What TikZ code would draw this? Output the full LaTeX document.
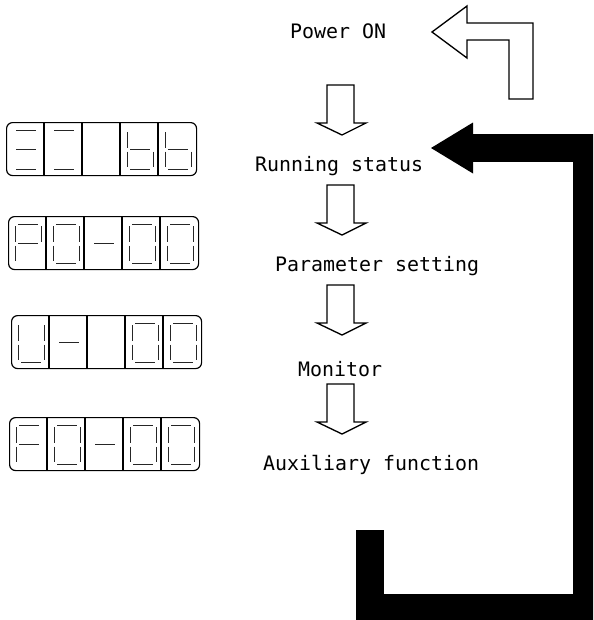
\documentclass[tikz,border=0pt]{standalone}
\usepackage{fontspec}
\newfontfamily\monofont{DejaVu Sans Mono}
\usetikzlibrary{arrows.meta}

\begin{document}
\begin{tikzpicture}[x=0.3mm,y=-0.3mm]
        \tikzstyle{every node}=[inner sep=0pt, font=\monofont\fontsize{17}{20}\selectfont, text=black]
        \tikzstyle{panel}=[draw=black, line width=0.35mm, rounded corners=1.8mm, minimum width=57mm, minimum height=15.9mm, anchor=north west]
        \tikzstyle{divider}=[black, line width=0.35mm]
        \tikzstyle{seg}=[black!85, line width=0.28mm]
        \tikzstyle{hollow}=[draw=black, line width=0.4mm, fill=white, line join=miter]
        \tikzstyle{loop}=[black, line width=8.4mm, line join=miter, -{Triangle[length=12.6mm, width=15.3mm, line width=0pt]}]
        \tikzstyle{sg a}=[insert path={(10,8) -- (30,8)}]
        \tikzstyle{sg b}=[insert path={(33,10) -- (33,25.5)}]
        \tikzstyle{sg c}=[insert path={(33,29.5) -- (33,45)}]
        \tikzstyle{sg d}=[insert path={(10,47) -- (30,47)}]
        \tikzstyle{sg e}=[insert path={(7,29.5) -- (7,45)}]
        \tikzstyle{sg f}=[insert path={(7,10) -- (7,25.5)}]
        \tikzstyle{sg g}=[insert path={(10,27.5) -- (30,27.5)}]

        \useasboundingbox (0,0) rectangle (593,620);
        \clip (0,0) rectangle (593,620);

        \node[anchor=base west] (power) at (290,38)  {Power ON};
        \node[anchor=base west] (run)   at (255,171) {Running status};
        \node[anchor=base west] (para)  at (275,271) {Parameter setting};
        \node[anchor=base west] (mon)   at (298,376) {Monitor};
        \node[anchor=base west] (aux)   at (263,470) {Auxiliary function};

        \node[panel] (disp1) at (6,122)  {};
        \node[panel] (disp2) at (8,216)  {};
        \node[panel] (disp3) at (11,315) {};
        \node[panel] (disp4) at (9,417)  {};

        \foreach \d in {disp1,disp2,disp3,disp4}
            \foreach \i in {1,...,4}
                \draw[divider] ([xshift=\i*11.4mm]\d.north west) -- ([xshift=\i*11.4mm]\d.south west);

        \foreach \px/\py/\segs in {6/122/{a,g,d}, 44/122/{a,d}, 120/122/{f,e,g,c,d}, 158/122/{f,e,g,c,d},
                                    8/216/{a,b,f,g,e}, 46/216/{a,b,c,d,e,f}, 84/216/{g}, 122/216/{a,b,c,d,e,f}, 160/216/{a,b,c,d,e,f},
                                    11/315/{b,c,d,e,f}, 49/315/{g}, 125/315/{a,b,c,d,e,f}, 163/315/{a,b,c,d,e,f},
                                    9/417/{a,f,g,e}, 47/417/{a,b,c,d,e,f}, 85/417/{g}, 123/417/{a,b,c,d,e,f}, 161/417/{a,b,c,d,e,f}}
            \foreach \s in \segs
                \draw[seg, shift={(\px,\py)}, sg \s];

        \foreach \t in {85,185,285,384}
            \draw[hollow] (327,\t) -- (354,\t) -- (354,\t+38) -- (366,\t+38) -- (342,\t+50) -- (317,\t+38) -- (327,\t+38) -- cycle;

        \draw[hollow] (432,32) -- (467,6) -- (467,23) -- (533,23) -- (533,99) -- (509,99) -- (509,40) -- (467,40) -- (467,58) -- cycle;

        \coordinate (loopfrom) at (370,530);
        \coordinate (loopto) at (431,148);
        \draw[loop] (loopfrom) |- (587,608) |- (loopto);
    \end{tikzpicture}
\end{document}
